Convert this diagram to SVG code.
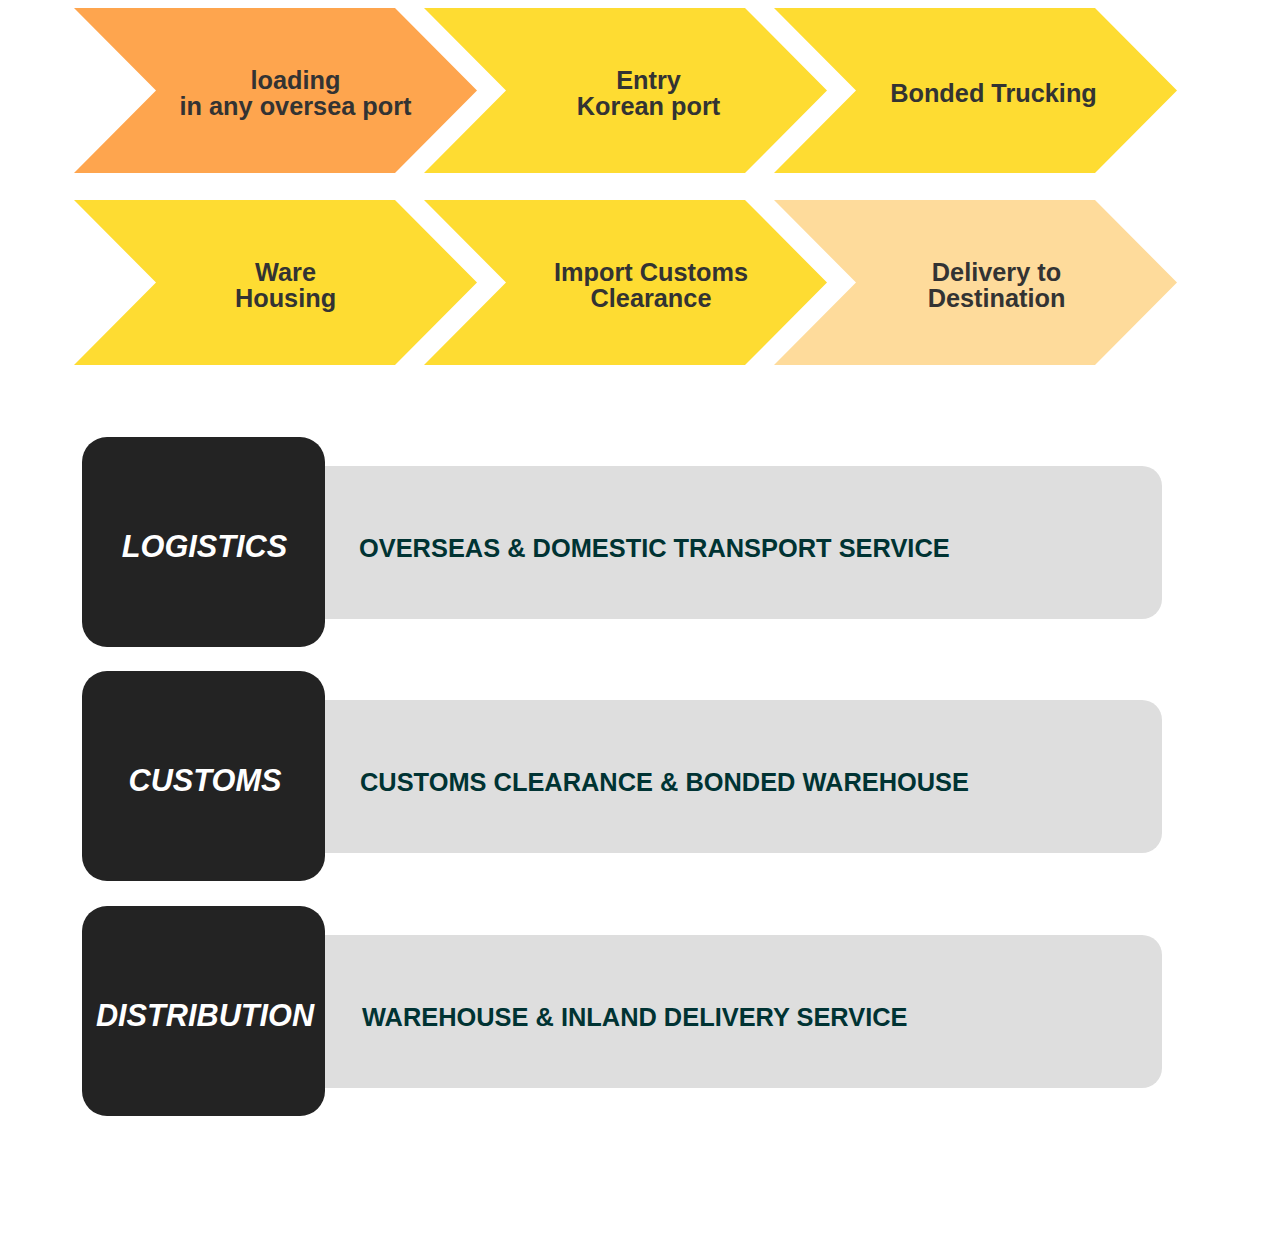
<svg xmlns="http://www.w3.org/2000/svg" width="1280" height="1250" viewBox="0 0 1280 1250">
<defs>
<style>
.ct{font-family:"Liberation Sans",Arial,sans-serif;font-weight:bold;font-size:25.3px;fill:#333333;text-anchor:middle}
.bt{font-family:"Liberation Sans",Arial,sans-serif;font-weight:bold;font-style:italic;font-size:30.7px;fill:#ffffff;text-anchor:middle}
.gt{font-family:"Liberation Sans",Arial,sans-serif;font-weight:bold;font-size:25.4px;fill:#003333}
.blk{fill:#232323}
.gry{fill:#dedede}
</style>
<path id="chev" d="M0,0 H321 L403,82.5 L321,165 H0 L82,82.5 Z"/>
</defs>
<rect width="1280" height="1250" fill="#ffffff"/>
<g id="connectors"></g>
<g id="step1"><use href="#chev" x="74" y="8" fill="#fea54e"/><text class="ct" x="295.5" y="89">loading</text><text class="ct" x="295.5" y="115">in any oversea port</text></g>
<g id="step2"><use href="#chev" x="424" y="8" fill="#fedc32"/><text class="ct" x="648.5" y="89">Entry</text><text class="ct" x="648.5" y="115">Korean port</text></g>
<g id="step3"><use href="#chev" x="774" y="8" fill="#fedc32"/><text class="ct" x="993.5" y="102">Bonded Trucking</text></g>
<g id="step4"><use href="#chev" x="74" y="200" fill="#fedc32"/><text class="ct" x="285.5" y="281">Ware</text><text class="ct" x="285.5" y="307">Housing</text></g>
<g id="step5"><use href="#chev" x="424" y="200" fill="#fedc32"/><text class="ct" x="651" y="281">Import Customs</text><text class="ct" x="651" y="307">Clearance</text></g>
<g id="step6"><use href="#chev" x="774" y="200" fill="#fedb9b"/><text class="ct" x="996.5" y="281">Delivery to</text><text class="ct" x="996.5" y="307">Destination</text></g>
<g id="logistics"><rect class="gry" x="300" y="466" width="862" height="153" rx="20"/><rect class="blk" x="82" y="437" width="243" height="210" rx="25"/><text class="bt" x="204.5" y="557">LOGISTICS</text><text class="gt" x="359" y="557">OVERSEAS &amp; DOMESTIC TRANSPORT SERVICE</text></g>
<g id="customs"><rect class="gry" x="300" y="700" width="862" height="153" rx="20"/><rect class="blk" x="82" y="671" width="243" height="210" rx="25"/><text class="bt" x="205" y="791">CUSTOMS</text><text class="gt" x="360" y="791">CUSTOMS CLEARANCE &amp; BONDED WAREHOUSE</text></g>
<g id="distribution"><rect class="gry" x="300" y="935" width="862" height="153" rx="20"/><rect class="blk" x="82" y="906" width="243" height="210" rx="25"/><text class="bt" x="205" y="1026">DISTRIBUTION</text><text class="gt" x="362" y="1026">WAREHOUSE &amp; INLAND DELIVERY SERVICE</text></g>
</svg>
